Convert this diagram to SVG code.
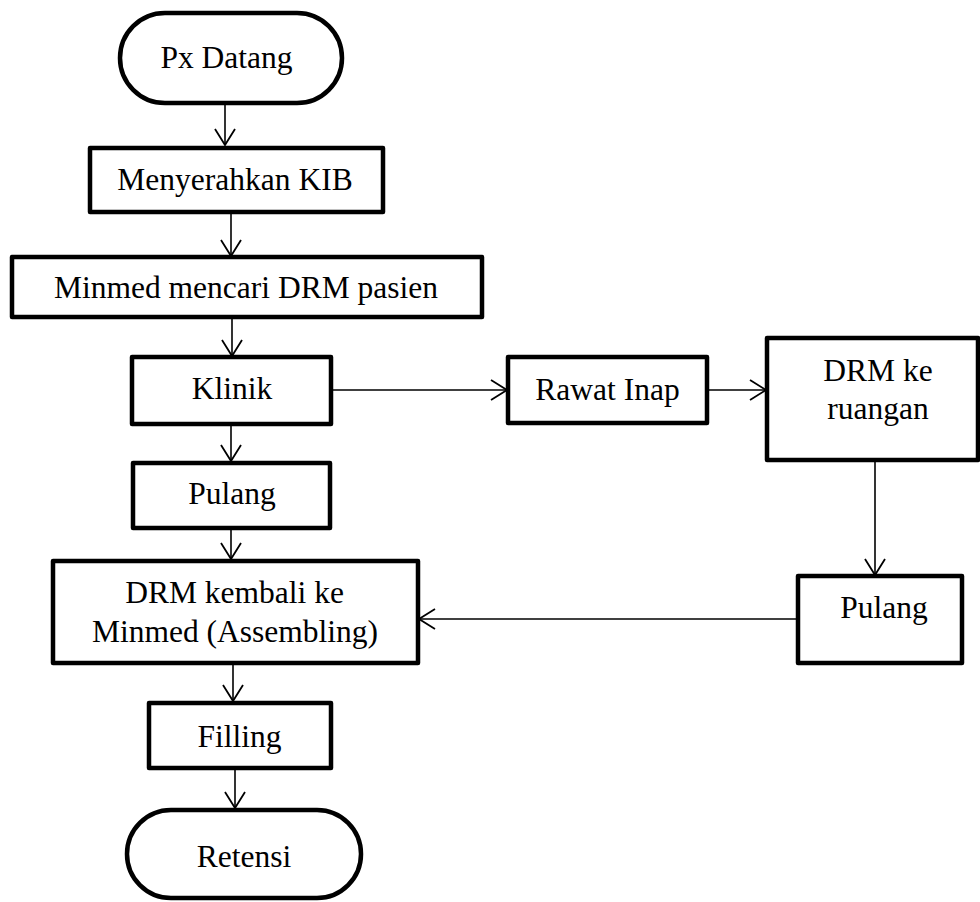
<svg xmlns="http://www.w3.org/2000/svg" width="980" height="902" viewBox="0 0 980 902">
  <style>
    .box { fill: #ffffff; stroke: #000000; stroke-width: 4.5; stroke-linejoin: round; }
    .lbl { font-family: "Liberation Serif", "Times New Roman", serif; font-size: 31.5px; fill: #000000; text-anchor: middle; }
    .conn { fill: none; stroke: #000000; stroke-width: 1.6; marker-end: url(#arrow); }
  </style>
  <defs>
    <marker id="arrow" markerUnits="userSpaceOnUse" markerWidth="24" markerHeight="26" refX="20" refY="12" orient="auto" overflow="visible">
      <path d="M4,2 L20,12 L4,22" fill="none" stroke="#000000" stroke-width="1.8"/>
    </marker>
  </defs>
  <rect width="980" height="902" fill="#ffffff"/>

  <!-- flow connectors -->
  <g id="connectors">
    <path class="conn" d="M225,103 L225,145"/>
    <path class="conn" d="M231,212 L231,256"/>
    <path class="conn" d="M232,317 L232,356"/>
    <path class="conn" d="M231,424 L231,461"/>
    <path class="conn" d="M231,528 L231,559"/>
    <path class="conn" d="M233,663 L233,701"/>
    <path class="conn" d="M235,768 L235,808"/>
    <path class="conn" d="M331,390 L507,390"/>
    <path class="conn" d="M707,390 L766,390"/>
    <path class="conn" d="M875,460 L875,575"/>
    <path class="conn" d="M798,619 L419,619"/>
  </g>

  <g id="px-datang">
    <rect class="box" x="120" y="13" width="222" height="90" rx="45" ry="45"/>
    <text class="lbl" x="226.5" y="68">Px Datang</text>
  </g>

  <g id="menyerahkan-kib">
    <rect class="box" x="90" y="148" width="293" height="64"/>
    <text class="lbl" x="235" y="190">Menyerahkan KIB</text>
  </g>

  <g id="minmed-mencari">
    <rect class="box" x="12" y="257" width="470" height="60"/>
    <text class="lbl" x="246" y="298">Minmed mencari DRM pasien</text>
  </g>

  <g id="klinik">
    <rect class="box" x="132" y="357" width="199" height="67"/>
    <text class="lbl" x="232" y="399">Klinik</text>
  </g>

  <g id="rawat-inap">
    <rect class="box" x="508" y="357" width="199" height="66"/>
    <text class="lbl" x="607.5" y="400">Rawat Inap</text>
  </g>

  <g id="drm-ke-ruangan">
    <rect class="box" x="767" y="338" width="211" height="122"/>
    <text class="lbl" x="878" y="381">DRM ke</text>
    <text class="lbl" x="878" y="419">ruangan</text>
  </g>

  <g id="pulang-klinik">
    <rect class="box" x="133" y="463" width="197" height="65"/>
    <text class="lbl" x="232" y="504">Pulang</text>
  </g>

  <g id="pulang-rawat-inap">
    <rect class="box" x="798" y="576" width="164" height="87"/>
    <text class="lbl" x="884" y="618">Pulang</text>
  </g>

  <g id="drm-kembali">
    <rect class="box" x="53" y="561" width="365" height="102"/>
    <text class="lbl" x="234.5" y="603">DRM kembali ke</text>
    <text class="lbl" x="235" y="642">Minmed (Assembling)</text>
  </g>

  <g id="filling">
    <rect class="box" x="149" y="703" width="182" height="65"/>
    <text class="lbl" x="239.5" y="747">Filling</text>
  </g>

  <g id="retensi">
    <rect class="box" x="127" y="810" width="234" height="88" rx="44" ry="44"/>
    <text class="lbl" x="244" y="867">Retensi</text>
  </g>
</svg>
